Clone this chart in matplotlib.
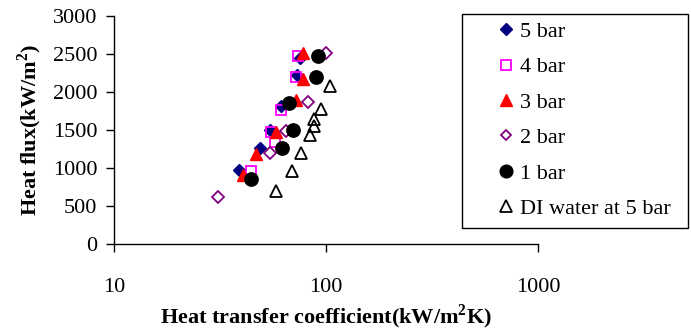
import matplotlib
matplotlib.use("Agg")
import matplotlib.pyplot as plt
from matplotlib.patches import Rectangle

plt.rcParams['font.family'] = ['Liberation Serif', 'DejaVu Serif']
plt.rcParams['mathtext.fontset'] = 'custom'
plt.rcParams['mathtext.rm'] = 'Liberation Serif'
plt.rcParams['mathtext.bf'] = 'Liberation Serif:bold'

# Data (heat transfer coefficient kW/m2K, heat flux kW/m2)
h_5bar = [38.9, 48.7, 54.2, 61.6, 73.0, 75.2]
q_5bar = [975, 1265, 1495, 1810, 2225, 2445]
h_4bar = [44.5, 57.3, 55.3, 61.6, 72.5, 73.8]
q_4bar = [966, 1340, 1478, 1763, 2191, 2465]
h_3bar = [40.6, 46.6, 57.9, 72.5, 77.9, 77.9]
q_3bar = [909, 1190, 1478, 1890, 2168, 2506]
h_2bar = [30.9, 54.7, 64.5, 82.2, 100.5]
q_2bar = [616, 1202, 1487, 1871, 2506]
h_1bar = [44.5, 62.0, 69.9, 66.9, 90.1, 91.7]
q_1bar = [862, 1268, 1500, 1860, 2189, 2466]
h_di = [57.9, 69.4, 76.5, 83.8, 87.8, 87.5, 94.4, 104.0]
q_di = [695, 960, 1198, 1428, 1552, 1646, 1772, 2077]

labels = ['5 bar', '4 bar', '3 bar', '2 bar', '1 bar', 'DI water at 5 bar']
xticks = [10, 100, 1000]
yticks = [0, 500, 1000, 1500, 2000, 2500, 3000]

W, H = 691, 334
fig = plt.figure(figsize=(6.91, 3.34), dpi=100)
ax = fig.add_axes([114 / W, 1 - 244.3 / H, 424 / W, 228.6 / H])

ax.plot(h_5bar, q_5bar, linestyle='none', marker='D', ms=6.2, color='#000080', label=labels[0])
ax.plot(h_4bar, q_4bar, linestyle='none', marker='s', ms=7.0, mfc='none', mec='#FF00FF', mew=1.3, label=labels[1])
ax.plot(h_3bar, q_3bar, linestyle='none', marker='^', ms=8.5, color='#FF0000', label=labels[2])
ax.plot(h_2bar, q_2bar, linestyle='none', marker='D', ms=5.8, mfc='none', mec='#800080', mew=1.3, label=labels[3])
ax.plot(h_1bar, q_1bar, linestyle='none', marker='o', ms=9.6, color='black', label=labels[4])
ax.plot(h_di, q_di, linestyle='none', marker='^', ms=8.5, mfc='none', mec='black', mew=1.3, label=labels[5])

ax.set_xscale('log')
ax.set_xlim(10, 1000)
ax.set_ylim(0, 3000)
ax.set_xticks(xticks)
ax.set_xticklabels([str(t) for t in xticks])
ax.xaxis.set_minor_locator(matplotlib.ticker.NullLocator())
ax.set_yticks(yticks)
ax.set_yticklabels([str(t) for t in yticks])

for s in ['top', 'right']:
    ax.spines[s].set_visible(False)
for s in ['left', 'bottom']:
    ax.spines[s].set_linewidth(1.0)

ax.tick_params(axis='x', direction='out', length=6, width=1.0, pad=18, labelsize=16)
ax.tick_params(axis='y', direction='out', length=6, width=1.0, pad=6, labelsize=16)

ax.set_xlabel('Heat transfer coefficient(kW/m$^\\mathbf{2}$K)', fontsize=16, fontweight='bold', labelpad=4)
ax.set_ylabel('Heat flux(kW/m$^\\mathbf{2}$)', fontsize=16, fontweight='bold', labelpad=6)

# legend box
fig.patches.append(Rectangle((462 / W, 1 - 228 / H), 226 / W, 214 / H, transform=fig.transFigure,
                             fill=False, edgecolor='black', linewidth=1.0))
leg = fig.legend(loc='upper left', bbox_to_anchor=(490 / W, 1 - 14 / H),
                 frameon=False, fontsize=16,
                 labelspacing=0.67, handlelength=0.8, handletextpad=0.2, borderpad=0.33,
                 borderaxespad=0, markerscale=0.95)

fig.savefig('out.png', dpi=100)
